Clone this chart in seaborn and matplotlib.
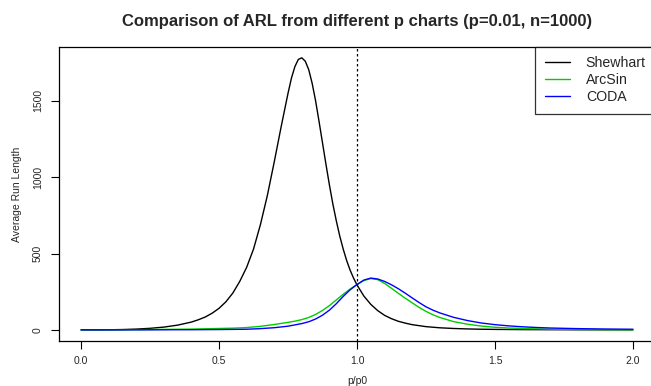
import matplotlib
matplotlib.use("Agg")
import matplotlib.pyplot as plt
import seaborn as sns
import pandas as pd

# ---- data ----
shewhart_x = [0.0, 0.05, 0.10, 0.15, 0.20, 0.25, 0.30, 0.35, 0.40, 0.425, 0.45, 0.475,
              0.50, 0.525, 0.55, 0.575, 0.60, 0.625, 0.65, 0.675, 0.70, 0.725, 0.75,
              0.7625, 0.775, 0.7875, 0.80, 0.8125, 0.825, 0.8375, 0.85, 0.8625, 0.875,
              0.8875, 0.90, 0.9125, 0.925, 0.9375, 0.95, 0.9625, 0.975, 0.9875, 1.00,
              1.025, 1.05, 1.075, 1.10, 1.125, 1.15, 1.175, 1.20, 1.25, 1.30, 1.35,
              1.40, 1.45, 1.50, 1.60, 1.70, 1.80, 1.90, 2.00]
shewhart_y = [1, 1, 1.5, 3, 6, 11, 19, 32, 52, 67, 85, 110,
              142, 185, 242, 318, 410, 530, 690, 880, 1100, 1330, 1550,
              1650, 1725, 1772, 1782, 1760, 1705, 1615, 1500, 1365, 1225,
              1085, 950, 825, 715, 615, 530, 455, 392, 340, 295,
              222, 168, 127, 96, 74, 57, 45, 35, 22, 14.5, 10,
              7, 5, 4, 2.5, 2, 1.5, 1.3, 1.2]

arcsin_x = [0.0, 0.1, 0.2, 0.3, 0.4, 0.5, 0.55, 0.6, 0.65, 0.7, 0.75, 0.775, 0.8,
            0.825, 0.85, 0.875, 0.9, 0.925, 0.95, 0.975, 1.0, 1.025, 1.05, 1.075,
            1.1, 1.125, 1.15, 1.175, 1.2, 1.225, 1.25, 1.275, 1.3, 1.35, 1.4, 1.45,
            1.5, 1.55, 1.6, 1.7, 1.8, 1.9, 2.0]
arcsin_y = [1, 1, 2, 4, 6, 10, 12, 16, 24, 36, 50, 58, 68,
            82, 102, 128, 160, 197, 234, 268, 298, 324, 337, 330,
            305, 273, 240, 208, 178, 148, 122, 100, 82, 55, 38, 26,
            18, 13, 9.5, 5.5, 3.5, 2.2, 1.6]

coda_x = [0.0, 0.2, 0.4, 0.5, 0.6, 0.65, 0.7, 0.75, 0.8, 0.825, 0.85, 0.875, 0.9,
          0.925, 0.95, 0.975, 1.0, 1.025, 1.05, 1.075, 1.1, 1.125, 1.15, 1.175,
          1.2, 1.225, 1.25, 1.275, 1.3, 1.35, 1.4, 1.45, 1.5, 1.55, 1.6, 1.65,
          1.7, 1.8, 1.9, 2.0]
coda_y = [1, 1, 2, 3, 5, 9, 15, 25, 42, 54, 72, 97, 130,
          172, 220, 263, 298, 327, 340, 334, 318, 296, 270, 241,
          210, 180, 152, 130, 112, 83, 62, 46, 35, 27, 21, 16.5,
          13, 9, 6.5, 5]

series_names = ["Shewhart", "ArcSin", "CODA"]
series_colors = ["#000000", "#00CD00", "#0000FF"]

x_ticks = [0.0, 0.5, 1.0, 1.5, 2.0]
x_tick_labels = ["0.0", "0.5", "1.0", "1.5", "2.0"]
y_ticks = [0, 500, 1000, 1500]
y_tick_labels = ["0", "500", "1000", "1500"]

# ---- build long table ----
frames = []
for name, xs, ys in zip(series_names,
                        [shewhart_x, arcsin_x, coda_x],
                        [shewhart_y, arcsin_y, coda_y]):
    frames.append(pd.DataFrame({"ratio": xs, "arl": ys, "chart": name}))
df = pd.concat(frames, ignore_index=True)

sns.set_theme(style="white")
plt.rcParams["font.family"] = ["Liberation Sans", "DejaVu Sans"]

fig = plt.figure(figsize=(6.51, 3.86), dpi=100)
ax = fig.add_axes([59 / 651, 1 - 341 / 386, (655 - 59) / 651, (341 - 47) / 386])

sns.lineplot(data=df, x="ratio", y="arl", hue="chart", hue_order=series_names,
             palette=dict(zip(series_names, series_colors)), sort=False,
             estimator=None, linewidth=1.0, ax=ax, legend=False)

ax.axvline(1.0, color="black", linestyle=(0, (2, 2)), linewidth=0.9)

ax.set_xlim(-0.08, 2.08)
ax.set_ylim(-72, 1853)

ax.set_xticks(x_ticks)
ax.set_xticklabels(x_tick_labels, fontsize=7.5)
ax.set_yticks(y_ticks)
ax.set_yticklabels(y_tick_labels, fontsize=7.5, rotation=90, va="center")
ax.tick_params(axis="both", direction="out", length=6, width=0.8, color="black",
               bottom=True, left=True)
ax.tick_params(axis="x", pad=5)
ax.tick_params(axis="y", pad=5.5)

for sp in ax.spines.values():
    sp.set_color("black")
    sp.set_linewidth(0.9)

ax.set_xlabel("p/p0", fontsize=7.5, labelpad=7)
ax.set_ylabel("Average Run Length", fontsize=7.5, labelpad=8)
ax.set_title("Comparison of ARL from different p charts (p=0.01, n=1000)",
             fontsize=12, fontweight="bold", pad=15)

handles = [plt.Line2D([], [], color=c, linewidth=1.0) for c in series_colors]
leg = ax.legend(handles, series_names, loc="upper right", fontsize=10.2,
                frameon=True, fancybox=False, borderaxespad=0,
                handlelength=1.8, handletextpad=1.1, labelspacing=0.22,
                borderpad=0.65)
leg.get_frame().set_edgecolor("black")
leg.get_frame().set_linewidth(0.9)

fig.savefig("out.png", dpi=100)
